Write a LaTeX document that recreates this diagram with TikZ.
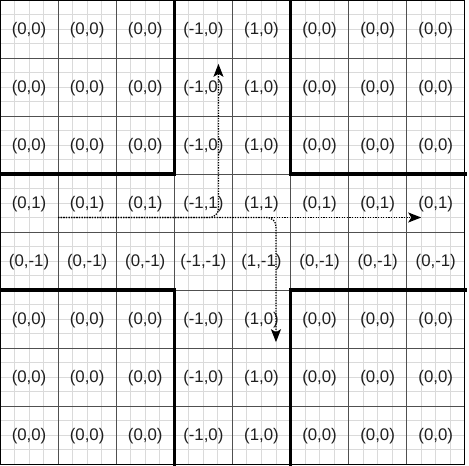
\documentclass[tikz,border=0pt]{standalone}
\usepackage{fontspec}
\setmainfont{Liberation Sans}
\usepackage{xcolor}
\usepackage{tikz}
\usetikzlibrary{arrows.meta,positioning}

\definecolor{finegray}{HTML}{DADADA}
\definecolor{cellgray}{HTML}{505050}

\begin{document}
\begin{tikzpicture}[
    x=58.1pt,
    y=-58pt,
    fine/.style={
      draw=finegray, 
      line width=0.9pt
    },
    cellline/.style={
      draw=cellgray, 
      line width=0.6pt
    },
    wall/.style={
      draw=black, 
      line width=3.6pt, 
      line cap=rect,
      line join=miter
    },
    border/.style={draw=black, line width=1pt},
    value/.style={
      font=\fontsize{16.8}{19}\selectfont, 
      text=black!88, 
      inner sep=0pt
    },
    flow/.style={
      draw, 
      line width=1.3pt, 
      dash pattern=on 1.3pt off 1.3pt, 
      rounded corners=9pt,
      -{Stealth[length=13pt,width=10pt,inset=3pt]}
    }
]

    \useasboundingbox (0pt,0pt) rectangle (469pt,-466pt);
    \fill[white] (0pt,0pt) rectangle (469pt,-466pt);

    % Grid
    \foreach \i in {1,...,31} {
      \draw[fine] (\i/4,0) -- (\i/4,8);
      \draw[fine] (0,\i/4) -- (8,\i/4);
    }
    \foreach \i in {1,...,7} {
      \draw[cellline] (\i,0) -- (\i,8);
      \draw[cellline] (0,\i) -- (8,\i);
    }
    \draw[border] (0,0) rectangle (8,8);

    % Walls
    \draw[wall] (3,0) -- (3,3) -- (0,3);
    \draw[wall] (5,0) -- (5,3) -- (8,3);
    \draw[wall] (0,5) -- (3,5) -- (3,8);
    \draw[wall] (8,5) -- (5,5) -- (5,8);

    % Nodes
    \foreach \r/\Y in {0/0,1/0,2/0,3/1,4/-1,5/0,6/0,7/0}
      \foreach \c/\X in {0/0,1/0,2/0,3/-1,4/1,5/0,6/0,7/0}
        \node[value] (cell-\r-\c) at (\c+0.5,\r+0.52) {(\X,\Y)};

    % Edges
    \coordinate (start) at (1,3.75);
    \coordinate (uptip) at (3.76,1.1);
    \coordinate (righttip) at (7.25,3.75);
    \coordinate (downtip) at (4.75,5.9);

    \draw[flow] (start) -- (righttip);
    \draw[flow] (start) -| (uptip);
    \draw[flow] (start) -| (downtip);

\end{tikzpicture}
\end{document}
